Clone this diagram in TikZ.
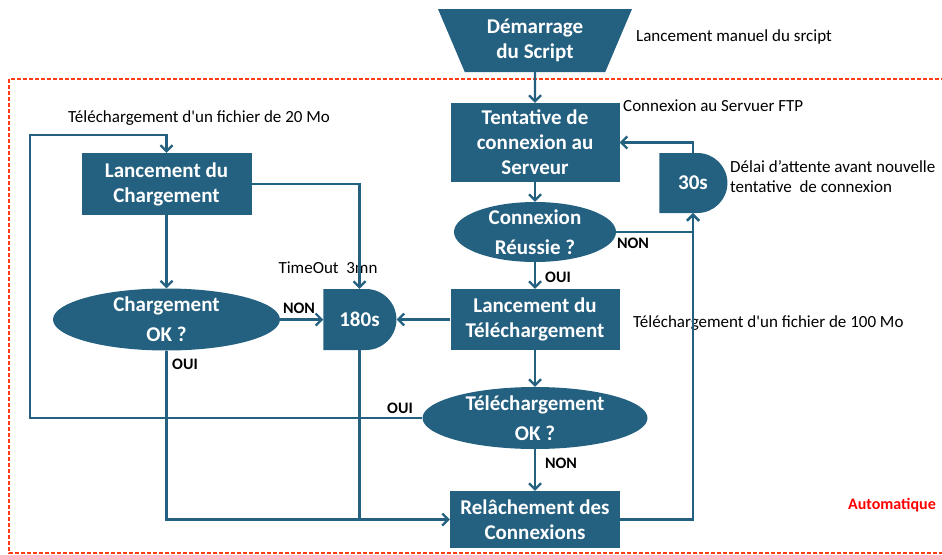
\documentclass[tikz,border=0pt]{standalone}
\usepackage{fontspec}
\setmainfont{Carlito}
\usetikzlibrary{shapes.geometric,shapes.misc,arrows.meta}
\definecolor{flowblue}{RGB}{36,96,128}
\definecolor{framered}{RGB}{255,60,20}

\begin{document}
\begin{tikzpicture}[x=1pt,y=1pt]

\tikzstyle{block} = [rectangle, fill=flowblue, text=white, inner sep=0pt, align=center, font=\fontsize{21}{25}\selectfont\bfseries]
\tikzstyle{startblock} = [trapezium, shape border rotate=180, trapezium angle=58, trapezium stretches body, fill=flowblue, text=white, inner sep=0pt, align=center, font=\fontsize{21}{25}\selectfont\bfseries]
\tikzstyle{decision} = [ellipse, fill=flowblue, inner sep=0pt]
\tikzstyle{decisiontext} = [text=white, inner sep=0pt, align=center, font=\fontsize{21}{30}\selectfont\bfseries]
\tikzstyle{delay} = [rounded rectangle, rounded rectangle west arc=none, fill=flowblue, text=white, inner sep=0pt, font=\fontsize{21}{25}\selectfont\bfseries]
\tikzstyle{note} = [inner sep=0pt, align=left, font=\fontsize{17}{20}\selectfont]
\tikzstyle{answer} = [inner sep=0pt, font=\fontsize{16}{19}\selectfont\bfseries]

\tikzset{
  flow/.style={draw=flowblue, line width=2.2pt, -{Straight Barb[length=6pt,width=12pt]}},
  link/.style={draw=flowblue, line width=2.2pt},
  autoframe/.style={draw=framered, line width=1.3pt, dash pattern=on 4pt off 2pt}
}

\useasboundingbox (0,0) rectangle (942,-554);
\coordinate (anchor) at (0,0);

%Automatic part: dashed frame
\draw [autoframe] (9,-79) rectangle (960,-553);
\path (anchor)+(936,-505) node (auto_text) [answer, anchor=east, text=red] {Automatique};

%Script start: top middle

\path (anchor)+(535,-40.5) node (start) [startblock, minimum width=194, minimum height=63] {Démarrage\\du Script};
\path (anchor)+(636,-37) node (start_text) [note, anchor=west] {Lancement manuel du srcipt};

%Server connection: right column

\path (start)+(0,-102) node (tentative) [block, minimum width=169, minimum height=79] {Tentative de\\connexion au\\Serveur};
\path (anchor)+(623,-106) node (tentative_text) [note, anchor=west] {Connexion au Servuer FTP};

\path (tentative)+(0,-89.5) node (cnx_ok) [decision, minimum width=162, minimum height=60] {};
\path (cnx_ok) node (cnx_ok_text) [decisiontext] {Connexion\\Réussie ?};

\path (anchor)+(693,-183) node (wait_cnx) [delay, minimum width=68, minimum height=60] {30s};
\path (anchor)+(730,-177) node (wait_cnx_text) [note, anchor=west] {Délai d’attente avant nouvelle\\tentative\ \ de connexion};

%Download: middle column

\path (cnx_ok)+(0,-87.5) node (lancement_tel) [block, minimum width=169, minimum height=61] {Lancement du\\Téléchargement};
\path (anchor)+(633,-323) node (lancement_tel_text) [note, anchor=west] {Téléchargement d\textquotesingle un fichier de 100 Mo};

\path (lancement_tel)+(0,-98.5) node (tel_ok) [decision, minimum width=225, minimum height=62] {};
\path (tel_ok) node (tel_ok_text) [decisiontext] {Téléchargement\\OK ?};

\path (tel_ok)+(0,-101.5) node (relache) [block, minimum width=170, minimum height=57] {Relâchement des\\Connexions};

%Upload: left column

\path (anchor)+(359.5,-319.5) node (wait_tel) [delay, minimum width=73, minimum height=61] {180s};
\path (anchor)+(328,-268) node (wait_tel_text) [note] {TimeOut\ \ 3mn};

\path (anchor)+(166.5,-184) node (lancement_ch) [block, minimum width=170, minimum height=62] {Lancement du\\Chargement};
\path (anchor)+(68,-118) node (lancement_ch_text) [note, anchor=west] {Téléchargement d\textquotesingle un fichier de 20 Mo};

\path (lancement_ch)+(0,-135.5) node (charge_ok) [decision, minimum width=227, minimum height=62] {};
\path (charge_ok) node (charge_ok_text) [decisiontext] {Chargement\\OK ?};

%Answers

\path (anchor)+(633,-243) node (cnx_non) [answer] {NON};
\path (anchor)+(558,-277) node (cnx_oui) [answer] {OUI};
\path (anchor)+(299,-308) node (charge_non) [answer] {NON};
\path (anchor)+(185,-364) node (charge_oui) [answer] {OUI};
\path (anchor)+(400,-408) node (tel_oui) [answer] {OUI};
\path (anchor)+(561,-463) node (tel_non) [answer] {NON};

%Arrows

\draw [flow] (start.south) -- (tentative.north);
\draw [flow] (tentative.south) -- (cnx_ok.north);
\draw [flow] (cnx_ok.south) -- (lancement_tel.north);
\draw [flow] (lancement_tel.south) -- (tel_ok.north);
\draw [flow] (tel_ok.south) -- (relache.north);

\draw [flow] (cnx_ok.east) -| (wait_cnx.south);
\draw [flow] (relache.east) -| (wait_cnx.south);
\draw [flow] (wait_cnx.north) |- (tentative.east);

\draw [flow] (lancement_tel.west) -- (wait_tel.east);
\draw [flow] (charge_ok.east) -- (wait_tel.west);
\draw [flow] (lancement_ch.east) -| (wait_tel.north);
\draw [flow] (lancement_ch.south) -- (charge_ok.north);
\draw [flow] (charge_ok.south) |- (relache.west);
\draw [link] (wait_tel.south) -- (wait_tel.south |- relache.west);

\coordinate (loop_bottom) at (30,-418);
\coordinate (loop_top) at (30,-135);
\draw [flow] (tel_ok.west) -- (loop_bottom) -- (loop_top) -| (lancement_ch.north);

\end{tikzpicture}
\end{document}
